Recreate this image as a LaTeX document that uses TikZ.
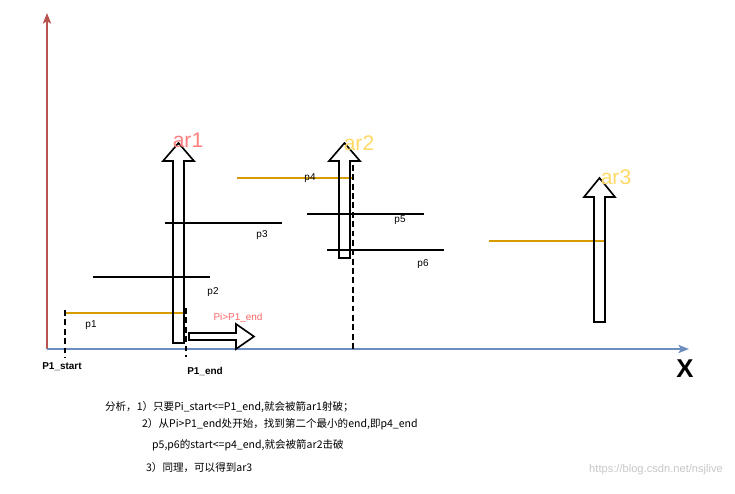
\documentclass[tikz,border=0pt]{standalone}
\usepackage{fontspec}
\setmainfont{Liberation Sans}
\newfontfamily\cjk{Noto Sans CJK SC}
\usetikzlibrary{arrows.meta}
\definecolor{axisred}{HTML}{B85450}
\definecolor{axisblue}{HTML}{6C8EBF}
\definecolor{segorange}{HTML}{D79B00}
\definecolor{arpink}{HTML}{FF8080}
\definecolor{aryellow}{HTML}{FFD966}
\definecolor{hintred}{HTML}{FF6666}

\begin{document}
\begin{tikzpicture}[x=0.03cm,y=-0.03cm,line join=miter,
  seg/.style={line width=1.3pt},
  dashmark/.style={line width=1.2pt,dash pattern=on 5pt off 3pt},
  block/.style={line width=1.4pt,black},
  plabel/.style={font=\fontsize{8.5}{10}\selectfont},
  arlabel/.style={font=\fontsize{18}{20}\selectfont},
  note/.style={font=\cjk\fontsize{9}{11}\selectfont,anchor=west}]
\useasboundingbox (0,0) rectangle (735,493);
% axes
\coordinate (origin) at (47,349);
\coordinate (ytop) at (47,13);
\coordinate (xend) at (689,349);
\draw[axisred,line width=1.5pt,-{Stealth[length=9pt,width=7pt,inset=2pt]}] (origin) -- (ytop);
\draw[axisblue,line width=1.5pt,-{Stealth[length=9pt,width=7pt,inset=2pt]}] (origin) -- (xend);
\node[font=\fontsize{22}{24}\bfseries] (xlabel) at (685,369) {X};
% intervals
\draw[seg,segorange] (65,313) -- (183,313);
\node[plabel] (lp1) at (91,325) {p1};
\draw[seg] (93,277) -- (210,277);
\node[plabel] (lp2) at (213,292) {p2};
\draw[seg] (165,223) -- (282,223);
\node[plabel] (lp3) at (262,235) {p3};
\draw[seg,segorange] (237,178) -- (353,178);
\node[plabel] (lp4) at (310,178) {p4};
\draw[seg] (307,214) -- (424,214);
\node[plabel] (lp5) at (400,220) {p5};
\draw[seg] (327,250) -- (444,250);
\node[plabel] (lp6) at (423,264) {p6};
\draw[seg,segorange] (489,241) -- (606,241);
% dashed marks
\draw[dashmark] (65,310) -- (65,358);
\node[plabel,font=\fontsize{8.5}{10}\bfseries] (lstart) at (62,367) {P1\_start};
\draw[dashmark] (186,308) -- (186,357);
\node[plabel,font=\fontsize{8.5}{10}\bfseries] (lend) at (205,371) {P1\_end};
\draw[dashmark] (353,165) -- (353,352);
% arrows
\draw[block] (173,343) -- (173,161) -- (163,161) -- (178.5,143) -- (194,161) -- (184,161) -- (184,343) -- cycle;
\node[arlabel,arpink] (lar1) at (188,140) {ar1};
\draw[block] (339,258) -- (339,161) -- (329,161) -- (344.5,143) -- (360,161) -- (350,161) -- (350,258) -- cycle;
\node[arlabel,aryellow] (lar2) at (359,143) {ar2};
\draw[block] (594,322) -- (594,197) -- (584,197) -- (599.5,178) -- (615,197) -- (605,197) -- (605,322) -- cycle;
\node[arlabel,aryellow] (lar3) at (616,177) {ar3};
\draw[block] (189,333) -- (236,333) -- (236,324) -- (254,336.5) -- (236,349) -- (236,340) -- (189,340) -- cycle;
\node[plabel,hintred] (lhint) at (238,318) {Pi>P1\_end};
% notes
\node[note] (n1) at (101,407) {分析，1）只要Pi\_start<=P1\_end,就会被箭ar1射破；};
\node[note] (n2) at (138,424) {2）从Pi>P1\_end处开始，找到第二个最小的end,即p4\_end};
\node[note] (n3) at (148,445) {p5,p6的start<=p4\_end,就会被箭ar2击破};
\node[note] (n4) at (142,468) {3）同理，可以得到ar3};
\node[font=\fontsize{9.5}{11}\selectfont,gray!45,anchor=east] (wm) at (727,470) {https://blog.csdn.net/nsjlive};
\end{tikzpicture}
\end{document}
